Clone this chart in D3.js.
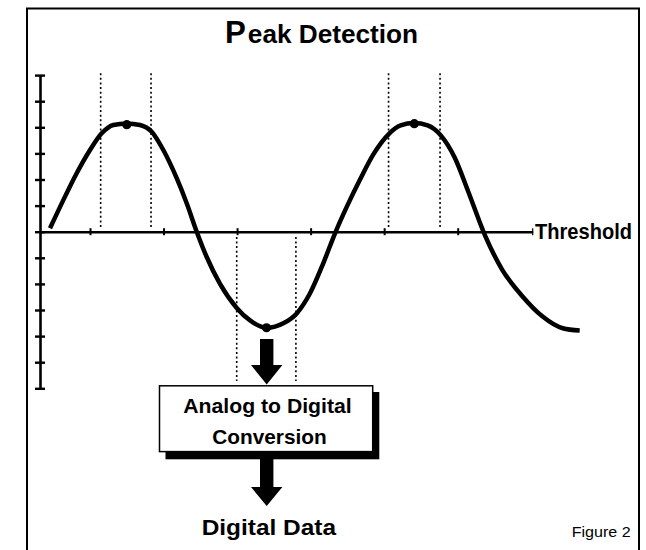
<!DOCTYPE html>
<html>
<head>
<meta charset="utf-8">
<script src="https://cdn.jsdelivr.net/npm/d3@7"></script>
<style>
  html, body { margin: 0; padding: 0; background: #fff; }
  svg { display: block; }
  text { font-family: "Liberation Sans", Arial, sans-serif; fill: #000; }
</style>
</head>
<body>
<svg id="chart" width="646" height="550"></svg>
<script>
// ---- data (phase units along x, amplitude units along y) ----
const signalT = [-0.544, -0.363, -0.181, 0, 0.159, 0.317, 0.499, 0.68, 0.839, 0.997, 1.179, 1.315, 1.451, 1.587, 1.768, 1.995, 2.176, 2.403, 2.629, 2.811, 2.992, 3.172, 3.332, 3.491, 3.672, 3.855, 4.062, 4.224, 4.406, 4.591, 4.773, 4.959, 5.143, 5.371, 5.602, 5.879, 6.155, 6.429, 6.659];
const signalV = [0.13, 1.21, 2.24, 3.13, 3.77, 4.09, 4.15, 4.09, 3.83, 3.13, 2.05, 1.09, 0, -0.97, -2.00, -2.92, -3.40, -3.68, -3.51, -3.13, -2.36, -1.21, -0.06, 0.95, 2.00, 2.97, 3.74, 4.07, 4.16, 4.07, 3.68, 2.84, 1.54, -0.14, -1.44, -2.47, -3.25, -3.70, -3.79];
const peakT = [0.50, 2.40, 4.41];
const peakV = [4.10, -3.68, 4.14];
const windowT = [0.145, 0.83, 1.995, 2.80, 4.06, 4.76];
const windowFrom = [6.07, 6.07, -0.2, -0.2, 6.07, 6.07];
const windowTo = [0.1, 0.1, -5.72, -5.72, 0.1, 0.1];
const xTicks = [0, 1, 2, 3, 4, 5];
const yTicks = [-6, -5, -4, -3, -2, -1, 0, 1, 2, 3, 4, 5, 6];
const titleText = "Peak Detection";
const axisLabel = "Threshold";
const boxLines = ["Analog to Digital", "Conversion"];
const outputLabel = "Digital Data";
const figureLabel = "Figure 2";

const svg = d3.select("#chart");

const x = d3.scaleLinear().domain([-0.68, 6.02]).range([40, 532.7]);
const y = d3.scaleLinear().domain([-6, 6]).range([388.3, 75.1]);

// frame
svg.append("path")
  .attr("d", "M27,552V8.5H639V552")
  .attr("fill", "none").attr("stroke", "#000").attr("stroke-width", 2);

// title
const title = svg.append("text")
  .attr("x", 225).attr("y", 42.7)
  .attr("font-weight", "bold")
  .attr("textLength", 193).attr("lengthAdjust", "spacingAndGlyphs");
title.append("tspan").attr("font-size", 31).text(titleText.slice(0, 1));
title.append("tspan").attr("font-size", 26).attr("dx", 2).text(titleText.slice(1));

// dotted windows
svg.append("g").selectAll("line")
  .data(windowT.map((t, i) => ({ t, a: windowFrom[i], b: windowTo[i] })))
  .join("line")
  .attr("x1", d => x(d.t)).attr("x2", d => x(d.t))
  .attr("y1", d => y(d.a)).attr("y2", d => y(d.b))
  .attr("stroke", "#000").attr("stroke-width", 1.6)
  .attr("stroke-dasharray", "2,2.6");

// vertical axis
const yAxis = svg.append("g")
  .attr("transform", `translate(${x(-0.68)},0)`)
  .call(d3.axisLeft(y).tickValues(yTicks).tickSizeInner(5).tickSizeOuter(0).tickFormat(""));
yAxis.selectAll(".tick line").attr("x1", 5).attr("stroke-width", 2.4);
yAxis.select(".domain").attr("stroke-width", 2.6);

// horizontal (threshold) axis
const xAxis = svg.append("g")
  .attr("transform", `translate(0,${y(0)})`)
  .call(d3.axisBottom(x).tickValues(xTicks).tickSizeInner(3.5).tickSizeOuter(0).tickFormat(""));
xAxis.selectAll(".tick line").attr("y1", -3.5).attr("stroke-width", 2);
xAxis.select(".domain").attr("stroke-width", 2.6);
xAxis.append("line")
  .attr("x1", x(6.02)).attr("x2", x(6.02)).attr("y1", -3.5).attr("y2", 3.5)
  .attr("stroke", "#000").attr("stroke-width", 1.2);

svg.append("text")
  .attr("x", 535).attr("y", 239)
  .attr("font-size", 22).attr("font-weight", "bold")
  .attr("textLength", 97).attr("lengthAdjust", "spacingAndGlyphs")
  .text(axisLabel);

// signal
const line = d3.line().x((d, i) => x(signalT[i])).y((d, i) => y(signalV[i])).curve(d3.curveMonotoneX);
svg.append("path")
  .attr("d", line(signalT))
  .attr("fill", "none").attr("stroke", "#000").attr("stroke-width", 4.5)
  .attr("stroke-linecap", "butt").attr("stroke-linejoin", "round");

svg.append("g").selectAll("circle")
  .data(peakT.map((t, i) => ({ t, v: peakV[i] })))
  .join("circle")
  .attr("cx", d => x(d.t)).attr("cy", d => y(d.v)).attr("r", 4.6)
  .attr("fill", "#000");

// arrows
function arrow(cx, top, neck, tip) {
  return `M${cx - 6.7},${top}H${cx + 6.7}V${neck}H${cx + 15.7}L${cx},${tip}L${cx - 15.7},${neck}H${cx - 6.7}Z`;
}
const ax = 266.7;
svg.append("path").attr("d", arrow(ax, 339, 365, 384.5)).attr("fill", "#000");
svg.append("path").attr("d", arrow(ax, 459, 487, 506)).attr("fill", "#000");

// conversion box with shadow
svg.append("rect").attr("x", 165.5).attr("y", 392).attr("width", 213.8).attr("height", 67.3).attr("fill", "#000");
svg.append("rect").attr("x", 159.5).attr("y", 385.8).attr("width", 213.2).attr("height", 65.8)
  .attr("fill", "#fff").attr("stroke", "#000").attr("stroke-width", 1.5);

const boxW = [168.4, 114.4];
const boxX = [267.5, 269.5];
const boxY = [413.3, 444];
svg.append("g").selectAll("text")
  .data(boxLines)
  .join("text")
  .attr("x", (d, i) => boxX[i] - boxW[i] / 2).attr("y", (d, i) => boxY[i])
  .attr("font-size", 20.5).attr("font-weight", "bold")
  .attr("textLength", (d, i) => boxW[i]).attr("lengthAdjust", "spacingAndGlyphs")
  .text(d => d);

svg.append("text")
  .attr("x", 201.7).attr("y", 535)
  .attr("font-size", 22).attr("font-weight", "bold")
  .attr("textLength", 134.3).attr("lengthAdjust", "spacingAndGlyphs")
  .text(outputLabel);

svg.append("text")
  .attr("x", 571.7).attr("y", 536.7)
  .attr("font-size", 14)
  .attr("textLength", 59).attr("lengthAdjust", "spacingAndGlyphs")
  .text(figureLabel);
</script>
</body>
</html>
